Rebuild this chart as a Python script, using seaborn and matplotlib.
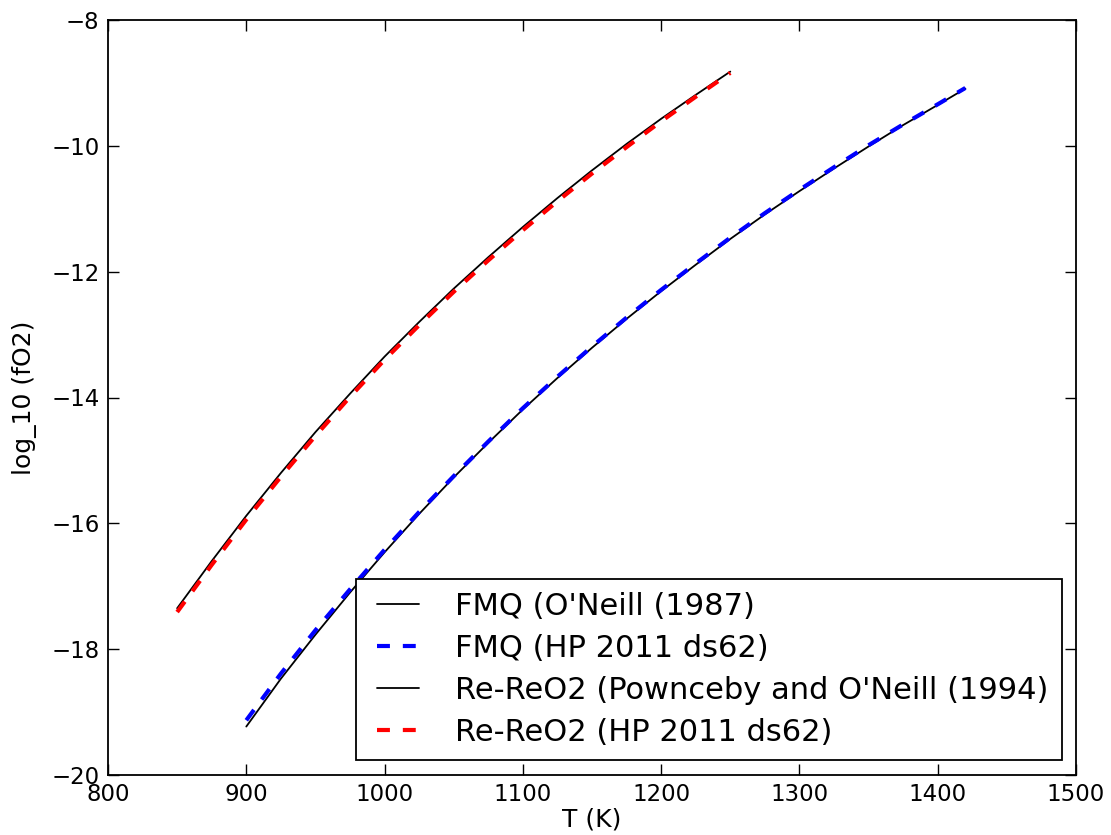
import numpy as np
import pandas as pd
import matplotlib
matplotlib.use("Agg")
import matplotlib.pyplot as plt
from matplotlib.legend_handler import HandlerLine2D
import seaborn as sns

# Data
T_fmq = [900, 925, 950, 975, 1000, 1025, 1050, 1075, 1100, 1125, 1150, 1175, 1200,
         1225, 1250, 1275, 1300, 1325, 1350, 1375, 1400, 1420]
fmq_oneill = [-19.23, -18.47, -17.77, -17.10, -16.46, -15.85, -15.27, -14.72, -14.19, -13.69,
              -13.21, -12.75, -12.31, -11.89, -11.48, -11.09, -10.72, -10.36, -10.01, -9.67,
              -9.35, -9.09]
fmq_hp = [-19.13, -18.39, -17.70, -17.05, -16.42, -15.82, -15.25, -14.70, -14.17, -13.67,
          -13.19, -12.73, -12.29, -11.87, -11.46, -11.07, -10.70, -10.34, -9.99, -9.66,
          -9.34, -9.08]

T_rere = [850, 875, 900, 925, 950, 975, 1000, 1025, 1050, 1075, 1100, 1125, 1150, 1175,
          1200, 1225, 1250]
rere_pownceby = [-17.35, -16.60, -15.88, -15.20, -14.55, -13.94, -13.35, -12.80, -12.27,
                 -11.77, -11.29, -10.83, -10.39, -9.97, -9.57, -9.19, -8.82]
rere_hp = [-17.41, -16.66, -15.94, -15.26, -14.61, -13.99, -13.40, -12.85, -12.32,
           -11.82, -11.34, -10.88, -10.44, -10.02, -9.61, -9.22, -8.84]

labels = ["FMQ (O'Neill (1987)", "FMQ (HP 2011 ds62)",
          "Re-ReO2 (Pownceby and O'Neill (1994)", "Re-ReO2 (HP 2011 ds62)"]

DASH = (9.3, 9.3)

sns.set_style("white")
plt.rcParams['font.family'] = ['DejaVu Sans']
plt.rcParams['lines.scale_dashes'] = False
plt.rcParams['text.color'] = 'black'
plt.rcParams['axes.labelcolor'] = 'black'

fig = plt.figure(figsize=(11.11, 8.35), dpi=100)
ax = fig.add_axes([108/1111, 1-775/835, (1076-108)/1111, (775-20)/835])

sns.lineplot(x=T_fmq, y=fmq_oneill, ax=ax, color='black', linewidth=1.3, label=labels[0], sort=False)
sns.lineplot(x=T_fmq, y=fmq_hp, ax=ax, color='blue', linewidth=3.0, label=labels[1], sort=False)
ax.lines[-1].set_dashes(DASH)
sns.lineplot(x=T_rere, y=rere_pownceby, ax=ax, color='black', linewidth=1.3, label=labels[2], sort=False)
sns.lineplot(x=T_rere, y=rere_hp, ax=ax, color='red', linewidth=3.0, label=labels[3], sort=False)
ax.lines[-1].set_dashes(DASH)

ax.set_xlim(800, 1500)
ax.set_ylim(-20, -8)
ax.set_xticks(range(800, 1501, 100))
ax.set_yticks(range(-20, -7, 2))

for side in ['top', 'right', 'bottom', 'left']:
    ax.spines[side].set_visible(True)
    ax.spines[side].set_color('black')
    ax.spines[side].set_linewidth(1.3)

ax.tick_params(axis='both', direction='in', length=8, width=1, labelsize=16.5,
               top=True, right=True, bottom=True, left=True, pad=6, colors='black')
ax.set_xlabel("T (K)", fontsize=18, labelpad=1)
ax.set_ylabel("log_10 (fO2)", fontsize=18, labelpad=10)

handles, labs = ax.get_legend_handles_labels()
for h in handles:
    if h.get_color() in ('blue', 'red'):
        h.set_dashes(DASH)
hmap = {h: HandlerLine2D(xpad=0.25) for h in handles}
leg = ax.legend(handles, labs, loc='lower right', fontsize=22, frameon=True, fancybox=False,
                handlelength=1.6, borderpad=0.44, labelspacing=0.42, handletextpad=1.2,
                borderaxespad=0, bbox_to_anchor=((1062-108)/968, (775-760)/755),
                handler_map=hmap)
leg.get_frame().set_edgecolor('black')
leg.get_frame().set_linewidth(1.3)
leg.get_frame().set_alpha(1)
for t in leg.get_texts():
    t.set_color('black')

fig.savefig("out.png", dpi=100, facecolor='white')
